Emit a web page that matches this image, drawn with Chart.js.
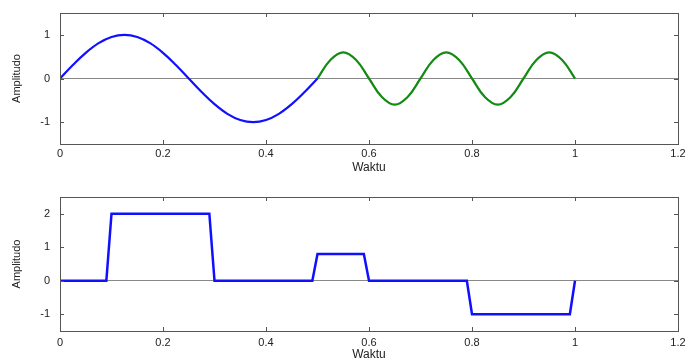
<!DOCTYPE html>
<html>
<head>
<meta charset="utf-8">
<script src="https://cdn.jsdelivr.net/npm/chart.js@4"></script>
<style>
  body { margin: 0; background: #fff; }
  .panel { width: 692px; height: 181px; }
</style>
</head>
<body>
<div class="panel"><canvas id="topChart" width="692" height="181"></canvas></div>
<div class="panel"><canvas id="bottomChart" width="692" height="181"></canvas></div>
<script>
// Top panel: low frequency wave (blue) then higher frequency wave (green)
const blueT = [0, 0.025, 0.05, 0.075, 0.1, 0.125, 0.15, 0.175, 0.2, 0.225, 0.25,
  0.275, 0.3, 0.325, 0.35, 0.375, 0.4, 0.425, 0.45, 0.475, 0.5];
const blueY = [0, 0.309, 0.588, 0.809, 0.951, 1, 0.951, 0.809, 0.588, 0.309, 0,
  -0.309, -0.588, -0.809, -0.951, -1, -0.951, -0.809, -0.588, -0.309, 0];

const greenT = [0.5, 0.525, 0.55, 0.575, 0.6, 0.625, 0.65, 0.675, 0.7, 0.725, 0.75,
  0.775, 0.8, 0.825, 0.85, 0.875, 0.9, 0.925, 0.95, 0.975, 1];
const greenY = [0, 0.424, 0.6, 0.424, 0, -0.424, -0.6, -0.424, 0, 0.424, 0.6,
  0.424, 0, -0.424, -0.6, -0.424, 0, 0.424, 0.6, 0.424, 0];

// Bottom panel: pulses
const pulseT = [0, 0.09, 0.1, 0.29, 0.3, 0.49, 0.5, 0.59, 0.6, 0.79, 0.8, 0.99, 1];
const pulseY = [0, 0, 2, 2, 0, 0, 0.8, 0.8, 0, 0, -1, -1, 0];

const xTicks = [0, 0.2, 0.4, 0.6, 0.8, 1, 1.2];
const topYTicks = [-1, 0, 1];
const bottomYTicks = [-1, 0, 1, 2];

const TEXT = '#222';
const FONT = 'Liberation Sans, Arial, sans-serif';

const pts = (xs, ys) => xs.map((x, i) => ({ x: x, y: ys[i] }));

// box round the plot area with inward tick marks on all four sides
const framePlugin = {
  id: 'frame',
  afterDraw(chart) {
    const { ctx, chartArea: a, scales } = chart;
    ctx.save();
    ctx.strokeStyle = '#555';
    ctx.lineWidth = 1;
    ctx.strokeRect(a.left + 0.5, a.top + 0.5, a.right - a.left, a.bottom - a.top);
    ctx.beginPath();
    const len = 4;
    scales.x.ticks.forEach(t => {
      const px = Math.round(scales.x.getPixelForValue(t.value)) + 0.5;
      ctx.moveTo(px, a.bottom); ctx.lineTo(px, a.bottom - len);
      ctx.moveTo(px, a.top); ctx.lineTo(px, a.top + len);
    });
    scales.y.ticks.forEach(t => {
      const py = Math.round(scales.y.getPixelForValue(t.value)) + 0.5;
      ctx.moveTo(a.left, py); ctx.lineTo(a.left + len, py);
      ctx.moveTo(a.right, py); ctx.lineTo(a.right - len, py);
    });
    ctx.stroke();
    ctx.restore();
  }
};

function makeChart(id, datasets, yMin, yMax, yTicks, pad, xHeight, tickPad, titlePad) {
  return new Chart(document.getElementById(id), {
    type: 'line',
    data: { datasets: datasets },
    options: {
      responsive: false,
      animation: false,
      devicePixelRatio: 1,
      layout: { padding: { left: 0, right: 14, top: pad, bottom: 0 } },
      plugins: { legend: { display: false }, tooltip: { enabled: false } },
      elements: { point: { radius: 0 } },
      scales: {
        x: {
          type: 'linear',
          min: 0, max: 1.2,
          afterBuildTicks: s => { s.ticks = xTicks.map(v => ({ value: v })); },
          afterFit: s => { s.height = xHeight; },
          grid: { display: false, drawTicks: false },
          border: { display: false },
          ticks: { color: TEXT, font: { family: FONT, size: 11 }, padding: tickPad, maxRotation: 0,
            callback: v => String(v) },
          title: { display: true, text: 'Waktu', color: TEXT,
            font: { family: FONT, size: 12 }, padding: { top: 0, bottom: titlePad } }
        },
        y: {
          min: yMin, max: yMax,
          afterBuildTicks: s => { s.ticks = yTicks.map(v => ({ value: v })); },
          afterFit: s => { s.width = 60; s.paddingTop = 0; s.paddingBottom = 0; },
          grid: { drawTicks: false, color: c => (c.tick && c.tick.value === 0 ? '#888' : 'rgba(0,0,0,0)') },
          border: { display: false },
          ticks: { color: TEXT, font: { family: FONT, size: 11 }, padding: 10,
            callback: v => String(v) },
          title: { display: true, text: 'Amplitudo', color: TEXT,
            font: { family: FONT, size: 11 }, padding: { top: 10, bottom: 0 } }
        }
      }
    },
    plugins: [framePlugin]
  });
}

makeChart('topChart', [
  { data: pts(blueT, blueY), borderColor: '#1010ff', borderWidth: 2.2, tension: 0.4 },
  { data: pts(greenT, greenY), borderColor: '#138a13', borderWidth: 2.2, tension: 0.4 }
], -1.5, 1.5, topYTicks, 13, 37, 3, 6);

makeChart('bottomChart', [
  { data: pts(pulseT, pulseY), borderColor: '#1010ff', borderWidth: 2.5, tension: 0 }
], -1.5, 2.5, bottomYTicks, 16, 31, 5, 0);
</script>
</body>
</html>
